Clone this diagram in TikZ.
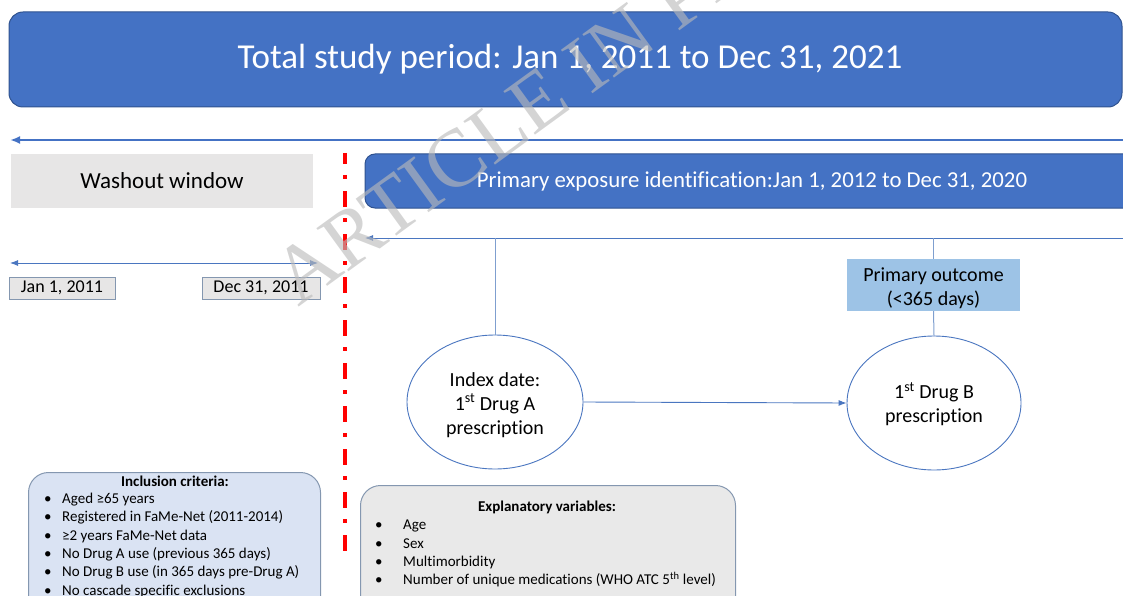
\documentclass[tikz,border=0pt]{standalone}
\usepackage{fontspec}
\setmainfont{Carlito}[Ligatures=NoCommon]
\newfontfamily\wmfont{Liberation Serif}
\usetikzlibrary{arrows.meta,shapes.geometric}

\definecolor{hdrblue}{HTML}{4472C4}
\definecolor{hdredge}{HTML}{2F528F}
\definecolor{washgray}{HTML}{E7E6E6}
\definecolor{boxedge}{HTML}{8497B0}
\definecolor{outblue}{HTML}{9DC3E6}
\definecolor{incblue}{HTML}{DAE3F3}
\definecolor{expgray}{HTML}{E9E9E9}
\definecolor{linkblue}{HTML}{4A76C0}
\definecolor{stemblue}{HTML}{7F9FCF}
\definecolor{cutred}{HTML}{FF0000}
\definecolor{wmgray}{HTML}{BABABA}

\tikzset{
  banner/.style={fill=hdrblue, draw=hdredge, line width=1pt, text=white, rounded corners=14pt, inner sep=0pt},
  washbox/.style={fill=washgray, inner sep=0pt},
  datebox/.style={fill=washgray, draw=boxedge, line width=1pt, minimum height=22pt, inner sep=0pt, font=\fontsize{18}{22}\selectfont},
  outbox/.style={fill=outblue, minimum width=173pt, minimum height=52pt, inner sep=0pt},
  event/.style={ellipse, draw=linkblue, line width=0.9pt, fill=white, inner sep=0pt},
  eventtext/.style={inner sep=0pt, align=center, font=\fontsize{20}{24}\selectfont},
  notebox/.style={draw=boxedge, line width=1pt, rounded corners=20pt, inner sep=0pt},
  notehead/.style={inner sep=0pt, font=\bfseries\fontsize{15}{18}\selectfont},
  notetext/.style={anchor=north west, align=left, inner sep=0pt, font=\fontsize{15}{18.3}\selectfont},
  thinlink/.style={draw=linkblue, line width=0.9pt},
  stem/.style={draw=stemblue, line width=1pt},
  tip/.style={-{Latex[length=8pt,width=6pt]}},
}

\begin{document}
\begin{tikzpicture}[x=1pt,y=-1pt]
\useasboundingbox (0,0) rectangle (1123,596);
\clip (0,0) rectangle (1123,596);

% overall study period
\node[banner, minimum width=1113pt, minimum height=95pt, font=\fontsize{35}{40}\selectfont] (total) at (565.5,59.5)
  {\hspace*{9pt}Total study period: Jan 1, 2011 to Dec 31, 2021};

\coordinate (tl) at (10,140);
\coordinate (tr) at (1130,140);
\draw[draw=hdrblue, line width=2.6pt, -{Latex[length=10pt,width=8pt]}] (tr) -- (tl);

% washout window
\node[washbox, minimum width=302pt, minimum height=54pt, font=\fontsize{23}{27}\selectfont] (wash) at (162,181) {Washout window};

\coordinate (wl) at (10,263);
\coordinate (wr) at (318,263);
\draw[thinlink, {Latex[length=8pt,width=6pt]}-{Latex[length=8pt,width=6pt]}] (wl) -- (wr);

\node[datebox, minimum width=106pt] (d1) at (62,288) {Jan 1, 2011};
\node[datebox, minimum width=118pt] (d2) at (261,288) {Dec 31, 2011};

% cut-off between washout and exposure identification
\coordinate (cuttop) at (345,153);
\coordinate (cutbot) at (345,557);
\draw[cutred, line width=3.4pt, dash pattern=on 16pt off 11pt on 4pt off 12pt, dash phase=5pt] (cuttop) -- (cutbot);

% exposure identification period
\node[banner, rounded corners=10pt, minimum width=780pt, minimum height=54pt, font=\fontsize{22.8}{27}\selectfont] (expo) at (755,181)
  {Primary exposure identification:Jan 1, 2012 to Dec 31, 2020\hspace*{6pt}};

\coordinate (el) at (365,238);
\coordinate (er) at (1130,238);
\draw[thinlink, tip] (er) -- (el);
\coordinate (ja) at (495,238);
\coordinate (jb) at (933.5,238);

% outcome and events
\node[outbox] (outc) at (933.5,285) {};
\node[eventtext] (outctext) at (933.5,288) {Primary outcome\\(<365 days)};
\node[event, minimum width=176pt, minimum height=134pt] (idx) at (495,402) {};
\node[eventtext] (idxtext) at (495,405) {Index date:\\1\textsuperscript{st} Drug A\\prescription};
\node[event, minimum width=174pt, minimum height=134pt] (drugb) at (934,403) {};
\node[eventtext] (drugbtext) at (934,404) {1\textsuperscript{st} Drug B\\prescription};

\draw[stem] (ja) -- (idx.north);
\draw[stem] (jb) -- (outc.north);
\draw[stem] (outc.south) -- (drugb.north);
\draw[thinlink, tip] (idx.east) -- (drugb.west);

% inclusion criteria
\node[notebox, fill=incblue, minimum width=292pt, minimum height=160pt, anchor=north west] (incl) at (28,472) {};
\node[notehead] (inclhead) at (175,481) {Inclusion criteria:};
\node[notetext] (incllist) at (44,493) {%
  \makebox[18pt][l]{•}Aged ≥65 years\\
  \makebox[18pt][l]{•}Registered in FaMe-Net (2011-2014)\\
  \makebox[18pt][l]{•}≥2 years FaMe-Net data\\
  \makebox[18pt][l]{•}No Drug A use (previous 365 days)\\
  \makebox[18pt][l]{•}No Drug B use (in 365 days pre-Drug A)\\
  \makebox[18pt][l]{•}No cascade specific exclusions};

% explanatory variables
\node[notebox, fill=expgray, minimum width=375pt, minimum height=150pt, anchor=north west] (expl) at (360,485) {};
\node[notehead] (explhead) at (547,507) {Explanatory variables:};
\node[notetext] (expllist) at (375,520) {%
  \makebox[28pt][l]{•}Age\\
  \makebox[28pt][l]{•}Sex\\
  \makebox[28pt][l]{•}Multimorbidity\\
  \makebox[28pt][l]{•}Number of unique medications (WHO ATC 5\textsuperscript{th} level)};

% watermark
\node[rotate=36, anchor=base west, inner sep=0pt, text=wmgray, opacity=0.62, font=\wmfont\fontsize{82}{82}\selectfont] (wm) at (298,308) {ARTICLE IN PRESS};
\end{tikzpicture}
\end{document}
